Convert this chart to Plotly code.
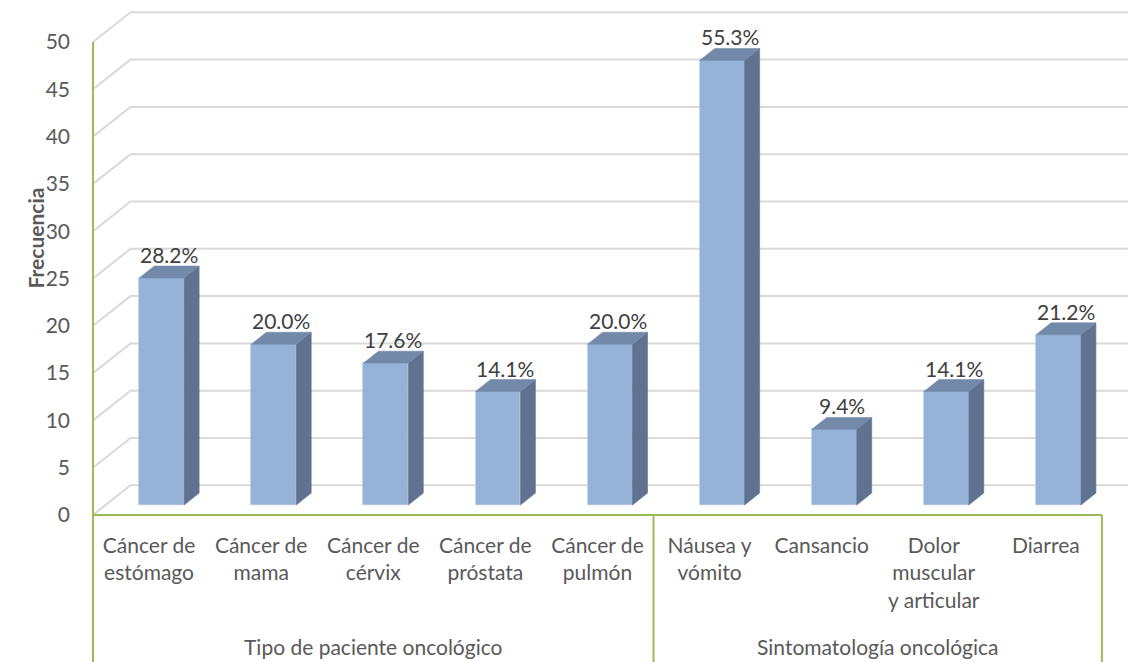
import plotly.graph_objects as go

# ---- data -------------------------------------------------------------
categories = [
    "Cáncer de<br>estómago",
    "Cáncer de<br>mama",
    "Cáncer de<br>cérvix",
    "Cáncer de<br>próstata",
    "Cáncer de<br>pulmón",
    "Náusea y<br>vómito",
    "Cansancio",
    "Dolor<br>muscular<br>y articular",
    "Diarrea",
]
groups = ["Tipo de paciente oncológico", "Sintomatología oncológica"]
group_sizes = [5, 4]
frequencies = [24, 17, 15, 12, 17, 47, 8, 12, 18]
total_patients = 85
y_ticks = [0, 5, 10, 15, 20, 25, 30, 35, 40, 45, 50]

# ---- look ------------------------------------------------------------
FONT = "Lato"
TEXT = "#595959"
LABEL = "#404040"
GRID = "#D9D9D9"
AXIS = "#9BBB59"
FRONT = "#95B3D7"
TOP = "#7389AA"
SIDE = "#5F7391"
FS = 21

W, H = 1128, 662
PX_PER_SLOT = 112.1      # horizontal pixels per category
PX_PER_UNIT = 9.46       # vertical pixels per frequency unit
LEFT, TOP_M, BOTTOM = 88, 8, 144
AXIS_X0 = 93             # pixel where category 0 starts
AXIS_Y0 = 515            # pixel of frequency 0 on the front plane

plot_w = W - LEFT
plot_h = H - TOP_M - BOTTOM
x_min = -(AXIS_X0 - LEFT) / PX_PER_SLOT
x_max = x_min + plot_w / PX_PER_SLOT
y_min = -((H - BOTTOM) - AXIS_Y0) / PX_PER_UNIT
y_max = y_min + plot_h / PX_PER_UNIT

# oblique depth of the floor / walls, in data units
DEPTH_X = 37.5 / PX_PER_SLOT
DEPTH_Y = 29.7 / PX_PER_UNIT
F_FRONT, F_BACK = 0.337, 0.737   # bar front / back planes as a fraction of depth
BAR_W = 0.40

n = len(categories)
centers = [i + 0.5 for i in range(n)]
pct_labels = [f"{100 * v / total_patients:.1f}%" for v in frequencies]

fig = go.Figure()

# front faces
fx = [c + F_FRONT * DEPTH_X for c in centers]
fig.add_trace(go.Bar(
    x=fx, y=frequencies, base=[F_FRONT * DEPTH_Y] * n, width=BAR_W,
    marker=dict(color=FRONT, line=dict(width=0.6, color="#A9C2E0")),
    hoverinfo="skip", showlegend=False,
))

# side and top faces
dx = (F_BACK - F_FRONT) * DEPTH_X
dy = (F_BACK - F_FRONT) * DEPTH_Y
sx, sy, tx, ty = [], [], [], []
for c, v in zip(fx, frequencies):
    xl, xr = c - BAR_W / 2, c + BAR_W / 2
    y0 = F_FRONT * DEPTH_Y
    y1 = y0 + v
    sx += [xr, xr, xr + dx, xr + dx, xr, None]
    sy += [y0, y1, y1 + dy, y0 + dy, y0, None]
    tx += [xl, xr, xr + dx, xl + dx, xl, None]
    ty += [y1, y1, y1 + dy, y1 + dy, y1, None]
fig.add_trace(go.Scatter(x=sx, y=sy, mode="lines", fill="toself", fillcolor=SIDE,
                         line=dict(width=0.6, color=SIDE), hoverinfo="skip", showlegend=False))
fig.add_trace(go.Scatter(x=tx, y=ty, mode="lines", fill="toself", fillcolor=TOP,
                         line=dict(width=0.6, color=TOP), hoverinfo="skip", showlegend=False))

# value labels above each bar
for c, v, t in zip(fx, frequencies, pct_labels):
    fig.add_annotation(x=c + dx / 2, y=v + F_BACK * DEPTH_Y, text=t, showarrow=False,
                       yanchor="bottom", yshift=-3,
                       font=dict(family=FONT, size=FS, color=LABEL))

# gridlines on side wall and back wall
shapes = []
for t in y_ticks:
    shapes.append(dict(
        type="path", xref="x", yref="y", layer="below",
        path=f"M 0,{t} L {DEPTH_X},{t + DEPTH_Y} L {x_max + 1},{t + DEPTH_Y}",
        line=dict(color=GRID, width=2),
    ))

# axis lines
shapes.append(dict(type="line", xref="x", yref="y", x0=0, x1=0, y0=0, y1=50,
                   line=dict(color=AXIS, width=2), layer="above"))
shapes.append(dict(type="line", xref="x", yref="y", x0=0, x1=n, y0=0, y1=0,
                   line=dict(color=AXIS, width=2), layer="above"))

def xp(x):
    return (x - x_min) / (x_max - x_min)

def yp(y):
    return (y - y_min) / (y_max - y_min)

bottom_paper = -BOTTOM / plot_h
edges = [0]
for s in group_sizes:
    edges.append(edges[-1] + s)
for e in edges:
    shapes.append(dict(type="line", xref="paper", yref="paper",
                       x0=xp(e), x1=xp(e), y0=yp(0), y1=bottom_paper,
                       line=dict(color=AXIS, width=2), layer="above"))

# group labels
for g, a, b in zip(groups, edges[:-1], edges[1:]):
    fig.add_annotation(x=(a + b) / 2, xref="x", y=(H - 661 - BOTTOM) / plot_h, yref="paper",
                       text=g, showarrow=False, yanchor="bottom",
                       font=dict(family=FONT, size=FS, color=TEXT))

# y-axis title
fig.add_annotation(x=(21 - LEFT) / plot_w, xref="paper", y=(H - BOTTOM - 238) / plot_h, yref="paper",
                   text="<b>Frecuencia</b>", textangle=-90, showarrow=False,
                   font=dict(family=FONT, size=FS, color=TEXT))

fig.update_layout(
    width=W, height=H,
    margin=dict(l=LEFT, r=0, t=TOP_M, b=BOTTOM, pad=0),
    plot_bgcolor="white", paper_bgcolor="white",
    shapes=shapes, bargap=0, showlegend=False,
    xaxis=dict(range=[x_min, x_max], tickvals=centers, ticktext=categories,
               showgrid=False, zeroline=False, showline=False, ticks="",
               tickfont=dict(family=FONT, size=FS, color=TEXT), tickangle=0,
               ticklabelstandoff=13, fixedrange=True),
    yaxis=dict(range=[y_min, y_max], tickvals=y_ticks,
               showgrid=False, zeroline=False, showline=False, ticks="",
               tickfont=dict(family=FONT, size=FS, color=TEXT),
               ticklabelstandoff=17, fixedrange=True),
)

fig.write_html("out.html")
